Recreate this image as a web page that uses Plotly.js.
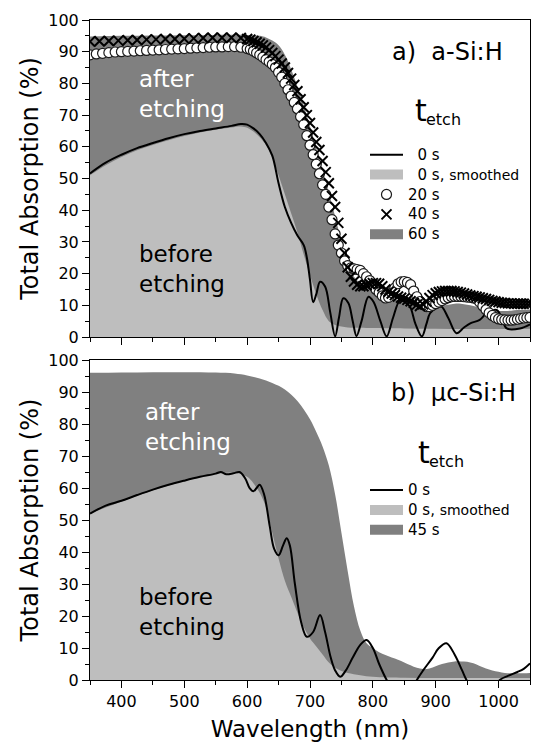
<!DOCTYPE html>
<html>
<head>
<meta charset="utf-8">
<script src="https://cdn.plot.ly/plotly-3.0.1.min.js"></script>
<style>html,body{margin:0;padding:0;background:#fff;}#chart{width:536px;height:742px;}</style>
</head>
<body>
<div id="chart"></div>
<script>
// ---------- Panel a) a-Si:H ----------
const wlA0 = [350,375,400,425,450,475,500,525,550,575,590,600,610,620,630,640,650,660,670,680,690,695,700,705,710,716,724,732,740,746,753,761,768,774,782,793,801,812,822,832,843,851,859,868,878,885,891,900,909,920,933,945,955,970,981,997,1005,1013,1034,1050];
const absA0 = [51.6,55,57.5,59.6,61.2,62.7,64,65,65.8,66.6,67.2,67,65.8,64,61.2,57.2,48.5,41,36,32,29,25,18,11,13.5,17.4,15.9,8,0.2,6,12.2,10.7,5,0.3,5,12.7,11.1,5,0.2,6,11.5,11,9.6,4,0.2,4,7.5,9,9.6,6,1.2,3,4.3,5.4,7.5,8.5,6,2.7,2.7,4];

const wlAs = [350,375,400,425,450,475,500,525,550,575,590,600,610,620,630,640,650,660,670,680,690,700,710,720,730,740,750,760,780,800,850,900,950,1000,1050];
const absAs = [51,54.2,56.8,58.9,60.6,62.1,63.4,64.5,65.4,66.1,66.4,66,64.8,63,60.5,56.5,51,45,39,33,26,19.5,13.5,8.5,5,3.8,3.3,3,2.9,2.8,2.7,2.6,2.5,2.5,2.6];

const wlA60 = [350,400,450,500,550,600,620,630,640,650,660,670,680,690,700,710,720,730,740,750,760,770,780,790,800,810,820,830,840,850,860,870,880,890,900,910,920,930,940,950,960,970,980,990,1000,1010,1020,1030,1040,1050];
const absA60 = [94.8,95,95.1,95.2,95.3,95.3,95,94.5,93.5,92,89,84.5,79,73,66.5,59.5,52.5,45.5,38,30,22.5,19,17,16,15.2,14.4,13.5,12.5,11.6,11,10.5,10,9.5,9.1,9.3,9.8,10.2,10.5,10.5,10.2,9.8,9.3,8.8,8.4,8.2,8.2,8.3,8.5,8.6,8.7];

const wlA20 = [350,360,370,380,390,400,410,420,430,440,450,460,470,480,490,500,510,520,530,540,550,560,570,580,590,600,605,610,615,620,625,630,635,640,645,650,655,660,665,670,675,680,685,690,695,700,705,710,715,720,725,730,735,740,745,750,755,760,765,770,775,780,785,790,795,800,805,810,815,820,825,830,835,840,845,850,855,860,865,870,875,880,885,890,895,900,905,910,915,920,925,930,935,940,945,950,955,960,965,970,975,980,985,990,995,1000,1005,1010,1015,1020,1025,1030,1035,1040,1045,1050];
const absA20 = [89.0,89.3,89.5,89.7,89.9,90.0,90.1,90.2,90.3,90.4,90.5,90.6,90.7,90.8,90.9,91.0,91.1,91.2,91.3,91.4,91.5,91.5,91.6,91.6,91.4,91.0,
90.7,90.2,89.6,89.0,88.3,87.5,86.8,86.0,85.0,83.5,
82.0,80.0,78.0,76.0,74.0,72.0,69.5,67.0,63.5,60.5,
57.5,54.5,51.5,48.0,45.0,41.0,37.0,32.5,29.0,26.5,
24.0,22.5,21.8,21.5,21.3,21.0,20.0,19.0,17.8,16.4,
15.0,14.0,13.0,12.3,12.5,14.0,15.5,16.8,17.4,17.5,
17.2,16.5,14.5,12.7,11.2,10.2,9.6,9.6,10.0,10.5,
11.0,11.5,12.0,12.4,12.7,12.8,12.8,12.8,12.7,12.6,
12.5,12.3,12.0,11.0,9.8,8.6,7.6,6.8,6.1,5.7,
5.5,5.4,5.3,5.3,5.4,5.6,5.8,6.0,6.1,6.2];

const wlA40 = [350,365,380,395,410,425,440,455,470,485,500,515,530,545,560,575,590,600,605,610,615,620,625,630,635,640,645,650,655,660,665,670,675,680,685,690,695,700,705,710,715,720,725,730,735,740,745,750,755,760,765,770,775,780,785,790,795,800,805,810,815,820,825,830,835,840,845,850,855,860,865,870,875,880,885,890,895,900,905,910,915,920,925,930,935,940,945,950,955,960,965,970,975,980,985,990,995,1000,1005,1010,1015,1020,1025,1030,1035,1040,1045,1050];
const absA40 = [93.2,93.3,93.4,93.5,93.6,93.7,93.8,93.9,94.0,94.0,94.1,94.2,94.3,94.4,94.4,94.4,94.3,
94.0,93.8,93.4,93.0,92.5,92.0,91.3,90.5,89.6,88.6,
87.5,86.3,85.0,83.3,81.5,79.5,77.5,75.0,72.5,70.0,
67.5,64.5,61.5,59.0,55.5,52.0,48.5,44.5,41.0,36.0,
31.0,26.5,22.0,19.0,17.5,16.5,16.0,16.0,16.3,16.7,
17.0,17.0,16.8,16.0,15.0,14.3,13.7,13.2,12.8,12.4,
12.1,11.7,11.3,10.8,10.2,9.8,10.3,11.2,12.3,13.2,
13.8,14.2,14.4,14.5,14.5,14.5,14.4,14.2,14.0,13.7,
13.4,13.1,12.9,12.7,12.5,12.2,12.0,11.7,11.4,11.2,
11.0,10.8,10.7,10.6,10.6,10.5,10.5,10.5,10.5,10.5,
10.5];

// ---------- Panel b) uc-Si:H ----------
const wlB0 = [350,375,400,425,450,475,500,525,550,558,567,578,588,597,604,610,615,620,627,636,643,650,657,663,668,676,686,695,705,716,724,733,740,748,757,768,780,790,800,810,822,835,860,870,880,895,905,917,930,942,949,962,992,1002,1015,1030,1040,1050];
const absB0 = [52,54.5,56,57.8,59.5,61,62.3,63.5,64.5,65,64.3,64.6,65,63,60,59,60,61,58,48,41,39,42,44.3,42,30,18,13.5,15,20.3,15,7,3,1,3,7,11,12.5,10,5,0,-4,-4,0,3,7,10,11.5,8,3,0,-4,-4,0,1.3,2.5,3.5,5.2];

const wlBs = [350,400,450,500,550,580,600,610,620,630,640,650,660,670,680,690,700,710,720,730,740,750,760,780,800,850,900,950,1000,1050];
const absBs = [52,55.8,59.3,62.2,64.4,64.8,63.5,61.5,58.5,54,46,38,31,26,21,16.5,13,10.5,8,5.5,3.8,2.8,2.2,1.5,1,0.7,0.6,0.6,0.6,0.6];

const wlB45 = [350,400,450,500,550,580,600,620,640,660,680,700,710,720,730,740,750,760,770,780,790,800,810,820,830,840,850,860,870,880,890,900,910,920,930,940,950,960,970,980,990,1000,1010,1020,1030,1040,1050];
const absB45 = [96,96.1,96.2,96.2,96.1,95.8,95.2,94.2,92.8,90.8,87.2,81.5,77.5,73,67,58,46,34,23,15.5,11.5,10,8.7,7.8,7,6.3,5.5,4.6,3.8,3.4,3.6,4.3,5,5.5,5.8,5.8,5.7,5.2,4.4,3.6,3,2.6,2.2,2.1,2.1,2.1,2.2];

// ---------- labels ----------
const xTicks = [400,500,600,700,800,900,1000];
const legendA = ['\u00a0\u00a00 s', '\u00a0\u00a00 s, <span style="font-size:14px">smoothed</span>', '20 s', '40 s', '60 s'];
const legendB = ['0 s', '0 s, <span style="font-size:14px">smoothed</span>', '45 s'];

const DARK = '#808080', LIGHT = '#bebebe';
const FONT = 'DejaVu Sans';
const lgSpan = s => '<span style="font-size:15px">' + s + '</span>';

const traces = [
  // panel a
  {x: wlA60, y: absA60, xaxis:'x', yaxis:'y', mode:'lines', fill:'tozeroy', fillcolor: DARK,
   line:{width:0, shape:'spline', color: DARK}, showlegend:false, hoverinfo:'skip'},
  {x: wlAs, y: absAs, xaxis:'x', yaxis:'y', mode:'lines', fill:'tozeroy', fillcolor: LIGHT,
   line:{width:0, shape:'spline', color: LIGHT}, showlegend:false, hoverinfo:'skip'},
  {x: wlA0, y: absA0, xaxis:'x', yaxis:'y', mode:'lines', line:{color:'#000', width:2, shape:'spline'},
   name: lgSpan(legendA[0]), legend:'legend', legendrank:1},
  {x:[null], y:[null], xaxis:'x', yaxis:'y', mode:'lines', line:{color:LIGHT, width:12},
   name: lgSpan(legendA[1]), legend:'legend', legendrank:2},
  {x: wlA20, y: absA20, xaxis:'x', yaxis:'y', mode:'markers',
   marker:{symbol:'circle', size:10, color:'#fff', line:{color:'#1a1a1a', width:1.2}},
   name: lgSpan(legendA[2]), legend:'legend', legendrank:3},
  {x: wlA40, y: absA40, xaxis:'x', yaxis:'y', mode:'markers',
   marker:{symbol:'x-thin', size:10, color:'#000', line:{color:'#000', width:2}},
   name: lgSpan(legendA[3]), legend:'legend', legendrank:4},
  {x:[null], y:[null], xaxis:'x', yaxis:'y', mode:'lines', line:{color:DARK, width:12},
   name: lgSpan(legendA[4]), legend:'legend', legendrank:5},
  // panel b
  {x: wlB45, y: absB45, xaxis:'x2', yaxis:'y2', mode:'lines', fill:'tozeroy', fillcolor: DARK,
   line:{width:0, shape:'spline', color: DARK}, showlegend:false, hoverinfo:'skip'},
  {x: wlBs, y: absBs, xaxis:'x2', yaxis:'y2', mode:'lines', fill:'tozeroy', fillcolor: LIGHT,
   line:{width:0, shape:'spline', color: LIGHT}, showlegend:false, hoverinfo:'skip'},
  {x: wlB0, y: absB0, xaxis:'x2', yaxis:'y2', mode:'lines', line:{color:'#000', width:2, shape:'spline'},
   name: lgSpan(legendB[0]), legend:'legend2', legendrank:1},
  {x:[null], y:[null], xaxis:'x2', yaxis:'y2', mode:'lines', line:{color:LIGHT, width:12},
   name: lgSpan(legendB[1]), legend:'legend2', legendrank:2},
  {x:[null], y:[null], xaxis:'x2', yaxis:'y2', mode:'lines', line:{color:DARK, width:12},
   name: lgSpan(legendB[2]), legend:'legend2', legendrank:3}
];

const axisCommon = {
  range:[350,1050], showline:true, linecolor:'#000', linewidth:1, mirror:true,
  ticks:'outside', ticklen:7, tickwidth:1, tickcolor:'#000', tickvals: xTicks,
  minor:{dtick:50, tick0:0, ticks:'outside', ticklen:4, tickcolor:'#000', tickwidth:1},
  showgrid:false, zeroline:false, tickfont:{family:FONT, size:16, color:'#000'}
};
const yCommon = {
  range:[0,100], showline:true, linecolor:'#000', linewidth:1, mirror:true,
  ticks:'outside', ticklen:7, tickwidth:1, tickcolor:'#000', dtick:10, tick0:0,
  minor:{dtick:5, ticks:'outside', ticklen:4, tickcolor:'#000', tickwidth:1},
  showgrid:false, zeroline:false, tickfont:{family:FONT, size:16, color:'#000'},
  title:{text:'Total Absorption (%)', font:{family:FONT, size:24, color:'#000'}, standoff:2}
};

const legendCommon = {
  xref:'paper', yref:'paper', xanchor:'left', yanchor:'top', bgcolor:'rgba(0,0,0,0)',
  borderwidth:0, font:{family:FONT, size:13, color:'#000'}, itemwidth:33, traceorder:'normal',
  itemclick:false, itemdoubleclick:false
};

const ann = (xr, yr, x, y, text, size, color, xanchor, extra) => Object.assign({
  xref:xr, yref:yr, x:x, y:y, text:text, showarrow:false, xanchor:xanchor||'left', yanchor:'middle',
  align:'left', font:{family:FONT, size:size, color:color||'#000'}
}, extra||{});
const tight = {borderpad:0, borderwidth:0};

const layout = {
  width:536, height:742,
  margin:{l:90, r:6, t:20, b:62},
  paper_bgcolor:'#fff', plot_bgcolor:'#fff',
  showlegend:true,
  xaxis: Object.assign({}, axisCommon, {anchor:'y', domain:[0,1], showticklabels:false}),
  yaxis: Object.assign({}, yCommon, {anchor:'x', domain:[0.5197,1]}),
  xaxis2: Object.assign({}, axisCommon, {anchor:'y2', domain:[0,1],
    title:{text:'Wavelength (nm)', font:{family:FONT, size:23, color:'#000'}, standoff:10}}),
  yaxis2: Object.assign({}, yCommon, {anchor:'x2', domain:[0,0.4848]}),
  legend: Object.assign({}, legendCommon, {x:0.625, y:0.8186}),
  legend2: Object.assign({}, legendCommon, {x:0.625, y:0.3105}),
  annotations: [
    ann('x','y',1010,89.9,'a)\u00a0 a-Si:H',24,'#000','right'),
    ann('x','y',424.8,76.5,'after<br>etching',23,'#fff'),
    ann('x','y',424.8,21.6,'before<br>etching',23,'#000'),
    ann('x','y',882.9,71.6,'t',30,'#000','right', Object.assign({xshift:2}, tight)),
    ann('x','y',882.9,68.6,'etch',16,'#000','left', Object.assign({xshift:1}, tight)),
    ann('x2','y2',1031,89.7,'b)\u00a0 \u03bcc-Si:H',24,'#000','right'),
    ann('x2','y2',434,79.2,'after<br>etching',23,'#fff'),
    ann('x2','y2',424.8,21.25,'before<br>etching',23,'#000'),
    ann('x2','y2',887.6,71.1,'t',30,'#000','right', Object.assign({xshift:2}, tight)),
    ann('x2','y2',887.6,68.3,'etch',16,'#000','left', Object.assign({xshift:1}, tight))
  ]
};

Plotly.newPlot('chart', traces, layout, {displayModeBar:false, staticPlot:true});
</script>
</body>
</html>
